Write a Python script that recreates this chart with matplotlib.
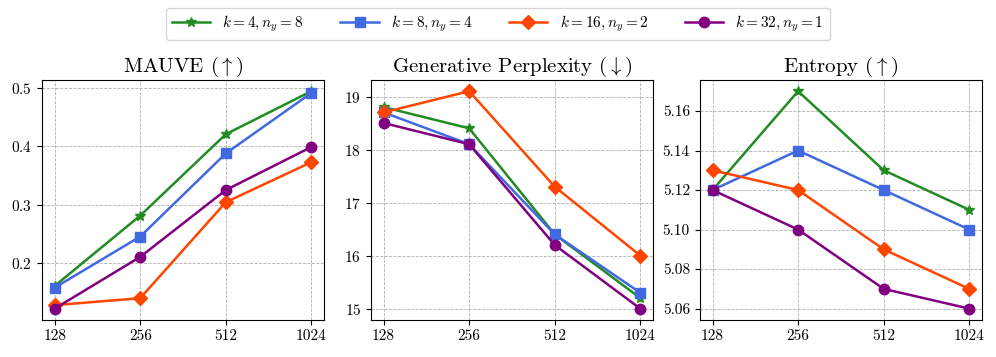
import matplotlib
matplotlib.use("Agg")
import matplotlib.pyplot as plt
import numpy as np

plt.rcParams['font.family'] = 'serif'
plt.rcParams['font.serif'] = ['cmr10']
plt.rcParams['mathtext.fontset'] = 'cm'
plt.rcParams['axes.formatter.use_mathtext'] = True

lengths = [128, 256, 512, 1024]
labels = [r'$k=4, n_y=8$', r'$k=8, n_y=4$', r'$k=16, n_y=2$', r'$k=32, n_y=1$']
colors = ['forestgreen', 'royalblue', 'orangered', 'purple']
markers = ['*', 's', 'D', 'o']
msizes = [7, 7.5, 7.5, 7.5]

mauve_k4 = [0.160, 0.281, 0.421, 0.495]
mauve_k8 = [0.157, 0.245, 0.388, 0.492]
mauve_k16 = [0.127, 0.139, 0.304, 0.373]
mauve_k32 = [0.121, 0.210, 0.325, 0.399]

ppl_k4 = [18.8, 18.4, 16.4, 15.2]
ppl_k8 = [18.7, 18.1, 16.4, 15.3]
ppl_k16 = [18.7, 19.1, 17.3, 16.0]
ppl_k32 = [18.5, 18.1, 16.2, 15.0]

ent_k4 = [5.12, 5.17, 5.13, 5.11]
ent_k8 = [5.12, 5.14, 5.12, 5.10]
ent_k16 = [5.13, 5.12, 5.09, 5.07]
ent_k32 = [5.12, 5.10, 5.07, 5.06]

panels = [
    (r'MAUVE ($\uparrow$)', [mauve_k4, mauve_k8, mauve_k16, mauve_k32]),
    (r'Generative Perplexity ($\downarrow$)', [ppl_k4, ppl_k8, ppl_k16, ppl_k32]),
    (r'Entropy ($\uparrow$)', [ent_k4, ent_k8, ent_k16, ent_k32]),
]

fig, axes = plt.subplots(1, 3, figsize=(9.96, 3.57), dpi=100)
fig.subplots_adjust(left=0.042, right=0.986, top=0.775, bottom=0.105, wspace=0.165)

x = np.arange(len(lengths))
for ax, (title, series) in zip(axes, panels):
    for ys, lab, c, m, ms in zip(series, labels, colors, markers, msizes):
        ax.plot(x, ys, color=c, marker=m, markersize=ms, linewidth=1.8, label=lab)
    ax.set_title(title, fontsize=15)
    ax.set_xticks(x)
    ax.set_xticklabels([str(v) for v in lengths])
    ax.grid(True, linestyle='--', linewidth=0.6, color='#b0b0b0')
    ax.tick_params(labelsize=11)

axes[0].set_yticks([0.2, 0.3, 0.4, 0.5])
axes[1].set_yticks([15, 16, 17, 18, 19])
axes[2].set_yticks([5.06, 5.08, 5.10, 5.12, 5.14, 5.16])
axes[2].yaxis.set_major_formatter(matplotlib.ticker.FormatStrFormatter('%.2f'))

handles, labs = axes[0].get_legend_handles_labels()
fig.legend(handles, labs, loc='upper center', ncol=4, bbox_to_anchor=(0.5, 1.0),
           fontsize=11, handlelength=2.5, columnspacing=2.4)

fig.savefig('out.png', dpi=100)
